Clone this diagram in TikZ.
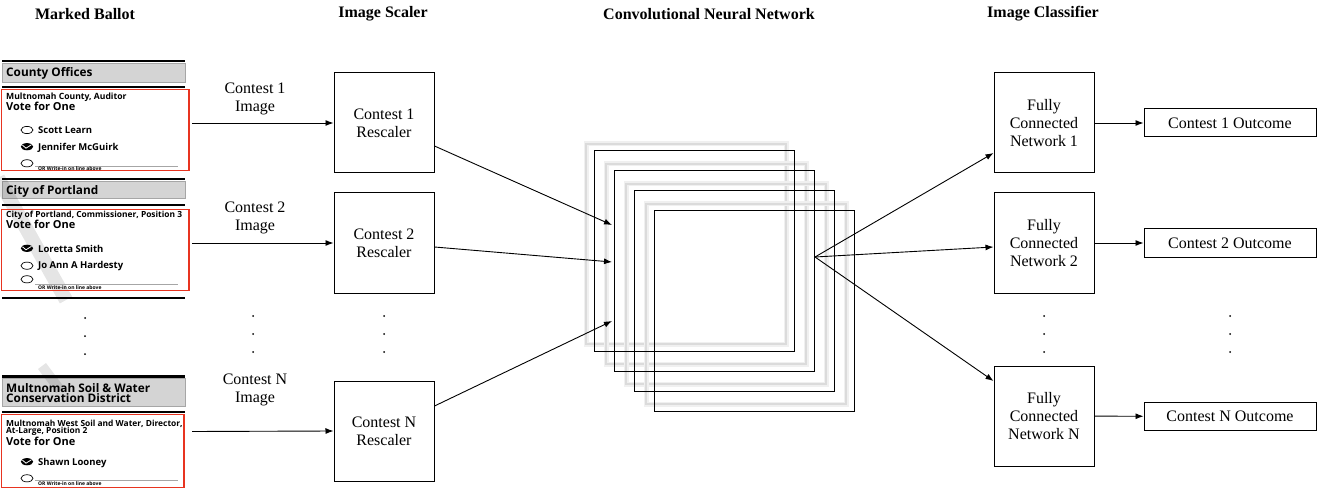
\documentclass[tikz,border=0pt]{standalone}
\usepackage{fontspec}
\setmainfont{Liberation Serif}
\newfontfamily\ballotfont{Open Sans}
\usetikzlibrary{arrows.meta, calc, positioning}
\definecolor{ballotred}{RGB}{232,52,32}
\definecolor{bandgray}{RGB}{212,212,212}

\begin{document}
\begin{tikzpicture}[x=1pt,y=-1pt,>={Latex[length=8pt,width=6pt]},
  every node/.style={font=\fontsize{16}{18}\selectfont},
  heading/.style={font=\fontsize{16}{18}\selectfont\bfseries},
  stagebox/.style={draw,line width=1pt,minimum width=100pt,minimum height=100pt,align=center,inner sep=0pt},
  outbox/.style={draw,line width=1pt,minimum width=172pt,minimum height=28pt,inner sep=0pt},
  cnnsq/.style={draw,line width=1pt,minimum width=200pt,minimum height=200pt,inner sep=0pt},
  link/.style={->,line width=0.9pt},
  btxt/.style={anchor=base west,inner sep=0pt,font=\ballotfont\bfseries\fontsize{#1}{#1}\selectfont}]
\useasboundingbox (0,0) rectangle (1317,489);

\node[heading] (hBallot) at (85,14) {Marked Ballot};
\node[heading] (hScaler) at (383,14) {Image Scaler};
\node[heading] (hCNN) at (709,14) {Convolutional Neural Network};
\node[heading] (hClass) at (1043,14) {Image Classifier};

% marked ballot
\foreach \y in {61,87,179,205,298,376.5,412}
  \draw[line width=2.3pt] (2,\y) -- (185,\y);
\filldraw[fill=bandgray,draw=gray!70,line width=0.8pt] (2,63.5) rectangle (185,82);
\filldraw[fill=bandgray,draw=gray!70,line width=0.8pt] (2,181) rectangle (185,198.5);
\filldraw[fill=bandgray,draw=gray!70,line width=0.8pt] (2,378.5) rectangle (185,406);
\draw[black,opacity=0.1,line width=14pt] (-2,178) -- (66,300);
\draw[black,opacity=0.1,line width=10pt] (42,366) -- (60,390);
\draw[ballotred,line width=1.2pt] (1.7,89.3) rectangle (189,170.7);
\draw[ballotred,line width=1.2pt] (1.7,209.3) rectangle (189,290.7);
\draw[ballotred,line width=1.2pt] (1.7,414.3) rectangle (184,487.3);

\node[btxt=11.8] at (6,76.7) {County Offices};
\node[btxt=8.6] at (6,100) {Multnomah County, Auditor};
\node[btxt=11] at (6,110.7) {Vote for One};
\node[btxt=9.5] at (38,133.3) {Scott Learn};
\node[btxt=9.5] at (38,150.7) {Jennifer McGuirk};

\node[btxt=11.8] at (6,195) {City of Portland};
\node[btxt=8.4] at (6,217.7) {City of Portland, Commissioner, Position 3};
\node[btxt=11] at (6,229) {Vote for One};
\node[btxt=9.5] at (38,252.3) {Loretta Smith};
\node[btxt=9.5] at (38,269) {Jo Ann A Hardesty};

\node[btxt=11.8] at (6,392.3) {Multnomah Soil \& Water};
\node[btxt=11.8] at (6,402.7) {Conservation District};
\node[btxt=8.4] at (6,426) {Multnomah West Soil and Water, Director,};
\node[btxt=8.4] at (6,433.3) {At-Large, Position 2};
\node[btxt=11] at (6,445) {Vote for One};
\node[btxt=9.5] at (38,465) {Shawn Looney};

\foreach \y in {130,265.7,163.3,279.3,478.3}
  \draw[line width=0.7pt] (27,\y) ellipse (6 and 3.6);
\foreach \y in {146.7,248.3,461.7} {
  \fill (27,\y) ellipse (6.2 and 3.6);
  \draw[white,line width=0.8pt] (22.5,\y-1.5) -- (26,\y+1.5) -- (31.5,\y-2);
}
\foreach \y/\b in {166.7/170.3,284.3/289,480.5/485.3} {
  \draw[gray!70,line width=0.6pt] (35,\y) -- (178,\y);
  \node[btxt=5] at (38,\b) {OR Write-in on line above};
}

\foreach \y in {318,336,354}
  \fill (85,\y) circle (1pt);
\foreach \x in {253,384,1044,1230}
  \foreach \y in {316,334,352}
    \fill (\x,\y) circle (1pt);

% image scaler
\coordinate (img1) at (192,123);
\coordinate (img2) at (192,243);
\coordinate (imgN) at (192,431.5);
\node (lbl1) at (255,99) [align=center] {Contest 1\\Image};
\node (lbl2) at (255,218) [align=center] {Contest 2\\Image};
\node (lblN) at (255,390) [align=center] {Contest N\\Image};
\node[stagebox] (res1) at (384,123) {Contest 1\\Rescaler};
\node[stagebox] (res2) at (384,243) {Contest 2\\Rescaler};
\node[stagebox] (resN) at (384,431) {Contest N\\Rescaler};
\draw[link] (img1) -- (res1.west);
\draw[link] (img2) -- (res2.west);
\draw[link] (imgN) -- (resN.west);

% convolutional layers
\foreach \k in {0,...,3} {
  \draw[gray!12,line width=5pt] (586+20*\k,144+20*\k) rectangle ++(200,200);
  \draw[gray!28,line width=1.8pt] (586+20*\k,144+20*\k) rectangle ++(200,200);
}
\node[cnnsq] (cnn1) at (694,251) {};
\node[cnnsq] (cnn2) at (714,271) {};
\node[cnnsq] (cnn3) at (734,291) {};
\node[cnnsq] (cnn4) at (754,311) {};
\coordinate (cnnin1) at (612,225);
\coordinate (cnnin2) at (612,262);
\coordinate (cnnin3) at (612,321);
\coordinate (cnnout) at (815,257);
\draw[link] ([yshift=-23pt]res1.east) -- (cnnin1);
\draw[link] ([yshift=-4pt]res2.east) -- (cnnin2);
\draw[link] ([yshift=25pt]resN.east) -- (cnnin3);

% image classifier
\node[stagebox] (fc1) at (1044,123) {Fully\\Connected\\Network 1};
\node[stagebox] (fc2) at (1044,243) {Fully\\Connected\\Network 2};
\node[stagebox] (fcN) at (1044,416) {Fully\\Connected\\Network N};
\draw[link] (cnnout) -- ([yshift=-30pt]fc1.west);
\draw[link] (cnnout) -- ([yshift=-4pt]fc2.west);
\draw[link] (cnnout) -- ([yshift=35pt]fcN.west);

\node[outbox] (out1) at (1230,123) {Contest 1 Outcome};
\node[outbox] (out2) at (1230,243) {Contest 2 Outcome};
\node[outbox] (outN) at (1230,416.5) {Contest N Outcome};
\draw[link] (fc1) -- (out1);
\draw[link] (fc2) -- (out2);
\draw[link] (fcN) -- (outN);
\end{tikzpicture}
\end{document}
